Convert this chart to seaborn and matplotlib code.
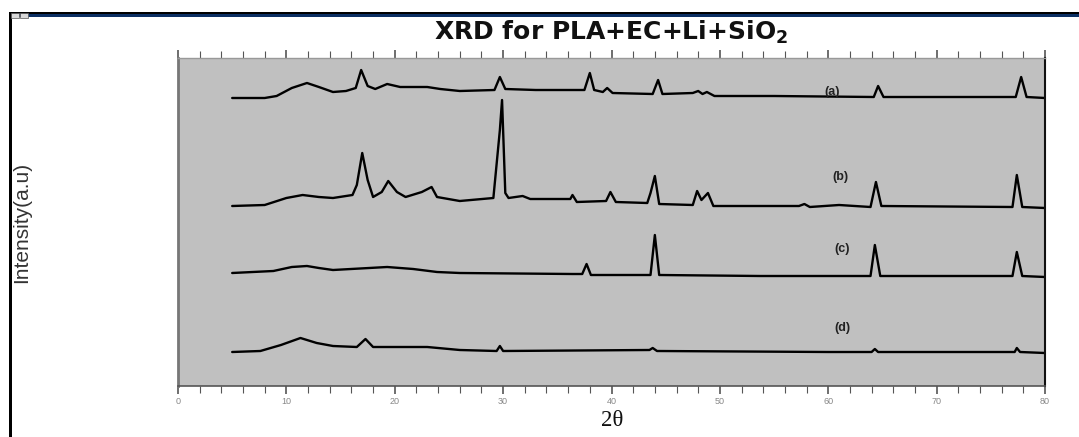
import numpy as np
import pandas as pd
import matplotlib
matplotlib.use("Agg")
import matplotlib.pyplot as plt
import seaborn as sns
from matplotlib.patches import Rectangle
from matplotlib.ticker import MultipleLocator

# ---- data (2theta in degrees, intensity in arbitrary units incl. vertical offset) ----
a_x = [5, 8, 9.1, 10.5, 11.9, 13, 14.3, 15.5, 16.4, 16.9, 17.5, 18.2, 19.3, 20.5, 23, 24.2, 26,
       29.2, 29.7, 30.2, 33, 37.5, 38.0, 38.4, 39.2, 39.6, 40.1, 43.8, 44.3, 44.7, 47.5, 48.0,
       48.4, 48.8, 49.5, 55, 64.2, 64.6, 65.1, 77.3, 77.8, 78.3, 80]
a_y = [288, 288, 290, 298, 303, 299, 294, 295, 298, 316, 300, 297, 302, 299, 299, 297, 295,
       296, 309, 297, 296, 296, 313, 296, 294, 298, 293, 292, 306, 292, 293, 295,
       292, 294, 290, 290, 289, 300, 289, 289, 309, 289, 288]

b_x = [5, 8, 10, 11.5, 13, 14.3, 16.1, 16.5, 17.0, 17.5, 18.0, 18.8, 19.4, 20.2, 21, 22.5, 23.4,
       23.9, 26, 29.1, 29.7, 29.9, 30.2, 30.5, 31.8, 32.5, 36.2, 36.4, 36.8, 39.5, 39.9, 40.4,
       43.3, 43.6, 44.0, 44.4, 47.5, 47.9, 48.3, 48.9, 49.4, 57.3, 57.8, 58.3, 61.0, 63.9,
       64.4, 64.9, 77.0, 77.4, 77.9, 80]
b_y = [180, 181, 188, 191, 189, 188, 191, 201, 233, 206, 189, 194, 205, 194, 189, 194, 199,
       189, 185, 188, 256, 286, 193, 188, 190, 187, 187, 191, 184, 185, 194, 184,
       183, 193, 210, 182, 181, 195, 186, 193, 180, 180, 182, 179, 181, 179,
       204, 180, 179, 211, 179, 178]

c_x = [5, 8.8, 10.5, 11.9, 13, 14.3, 19.3, 21.7, 23.9, 26, 36.4, 37.3, 37.7, 38.1, 43.6, 44.0,
       44.4, 53.7, 63.9, 64.3, 64.8, 77.0, 77.4, 77.9, 80]
c_y = [113, 115, 119, 120, 118, 116, 119, 117, 114, 113, 112, 112, 122, 111, 111, 151,
       111, 110, 110, 141, 110, 110, 134, 110, 109]

d_x = [5, 7.6, 9.5, 11.3, 12.8, 14.3, 16.5, 17.3, 18, 23, 26, 29.4, 29.7, 30, 43.5, 43.8, 44.2,
       60, 64.0, 64.3, 64.6, 77.2, 77.4, 77.7, 80]
d_y = [34, 35, 41, 48, 43, 40, 39, 47, 39, 39, 36, 35, 40, 35, 36, 38, 35,
       34, 34, 37, 34, 34, 38, 34, 33]

curve_labels = ["(a)", "(b)", "(c)", "(d)"]
label_x = [60.4, 61.1, 61.3, 61.3]
label_y = [294, 209, 137, 58]

x_ticks = [0, 10, 20, 30, 40, 50, 60, 70, 80]
title_text = "XRD for PLA+EC+Li+SiO$_\\mathbf{2}$"
x_label = "2\u03b8"
y_label = "Intensity(a.u)"

# ---- figure ----
sns.set_style("white")
plt.rcParams["font.family"] = ["Liberation Sans", "DejaVu Sans"]
plt.rcParams["mathtext.fontset"] = "dejavusans"

W, H = 1079, 437
fig = plt.figure(figsize=(W / 100, H / 100), dpi=100)
fig.patch.set_facecolor("white")

L, R, T, B = 178, 1045, 58, 386
ax = fig.add_axes([L / W, 1 - B / H, (R - L) / W, (B - T) / H])
ax.set_facecolor("#c0c0c0")

for xs, ys in [(a_x, a_y), (b_x, b_y), (c_x, c_y), (d_x, d_y)]:
    df = pd.DataFrame({"x": xs, "y": ys})
    sns.lineplot(data=df, x="x", y="y", color="black", linewidth=1.7,
                 estimator=None, sort=False, ax=ax)

for lab, lx, ly in zip(curve_labels, label_x, label_y):
    ax.text(lx, ly, lab, ha="center", va="center", fontsize=9, fontweight="bold",
            color="#222222")

ax.set_xlim(0, 80)
ax.set_ylim(0, 328)
ax.set_xticks(x_ticks)
ax.set_xticklabels([str(t) for t in x_ticks])
ax.xaxis.set_minor_locator(MultipleLocator(2))
ax.set_yticks([])
ax.set_xlabel("")
ax.set_ylabel("")

ax.tick_params(axis="x", which="both", direction="out", top=True, bottom=True,
               labeltop=False, labelbottom=True, colors="#555555", labelcolor="#888888",
               labelsize=6.5, pad=2)
ax.tick_params(axis="x", which="major", length=6, width=1.2)
ax.tick_params(axis="x", which="minor", length=5, width=0.8)

for side, sp in ax.spines.items():
    sp.set_visible(True)
ax.spines["left"].set_color("#777777")
ax.spines["left"].set_linewidth(2.0)
ax.spines["top"].set_color("#999999")
ax.spines["top"].set_linewidth(1.0)
ax.spines["bottom"].set_color("#555555")
ax.spines["bottom"].set_linewidth(1.2)
ax.spines["right"].set_color("#111111")
ax.spines["right"].set_linewidth(1.5)

# texts
fig.text(611 / W, 1 - 32 / H, title_text, ha="center", va="center",
         fontsize=18, fontweight="bold", family=["DejaVu Sans"], color="#111111")
fig.text(612 / W, 1 - 420 / H, x_label, ha="center", va="center",
         fontsize=16.5, family=["Liberation Serif", "DejaVu Serif"], color="#111111")
fig.text(22 / W, 1 - 222 / H, y_label, ha="center", va="center", rotation=90,
         fontsize=15, family=["Liberation Sans Narrow", "Liberation Sans", "DejaVu Sans"],
         color="#333333")

# window chrome (decoration)
fig.add_artist(Rectangle((10 / W, 1 - 17 / H), 1 - 10 / W, 5 / H,
                         transform=fig.transFigure, facecolor="#0b2f63", edgecolor="none"))
fig.add_artist(Rectangle((10 / W, 1 - 13.5 / H), 1 - 10 / W, 1.5 / H,
                         transform=fig.transFigure, facecolor="#000000", edgecolor="none"))
fig.add_artist(Rectangle((9 / W, 0), 2.5 / W, 1 - 12 / H,
                         transform=fig.transFigure, facecolor="#000000", edgecolor="none"))
for x0 in (11, 20):
    fig.add_artist(Rectangle((x0 / W, 1 - 18 / H), 8 / W, 5 / H, transform=fig.transFigure,
                             facecolor="#d8d8d8", edgecolor="#555555", linewidth=0.5))

fig.savefig("out.png", dpi=100, facecolor="white")
